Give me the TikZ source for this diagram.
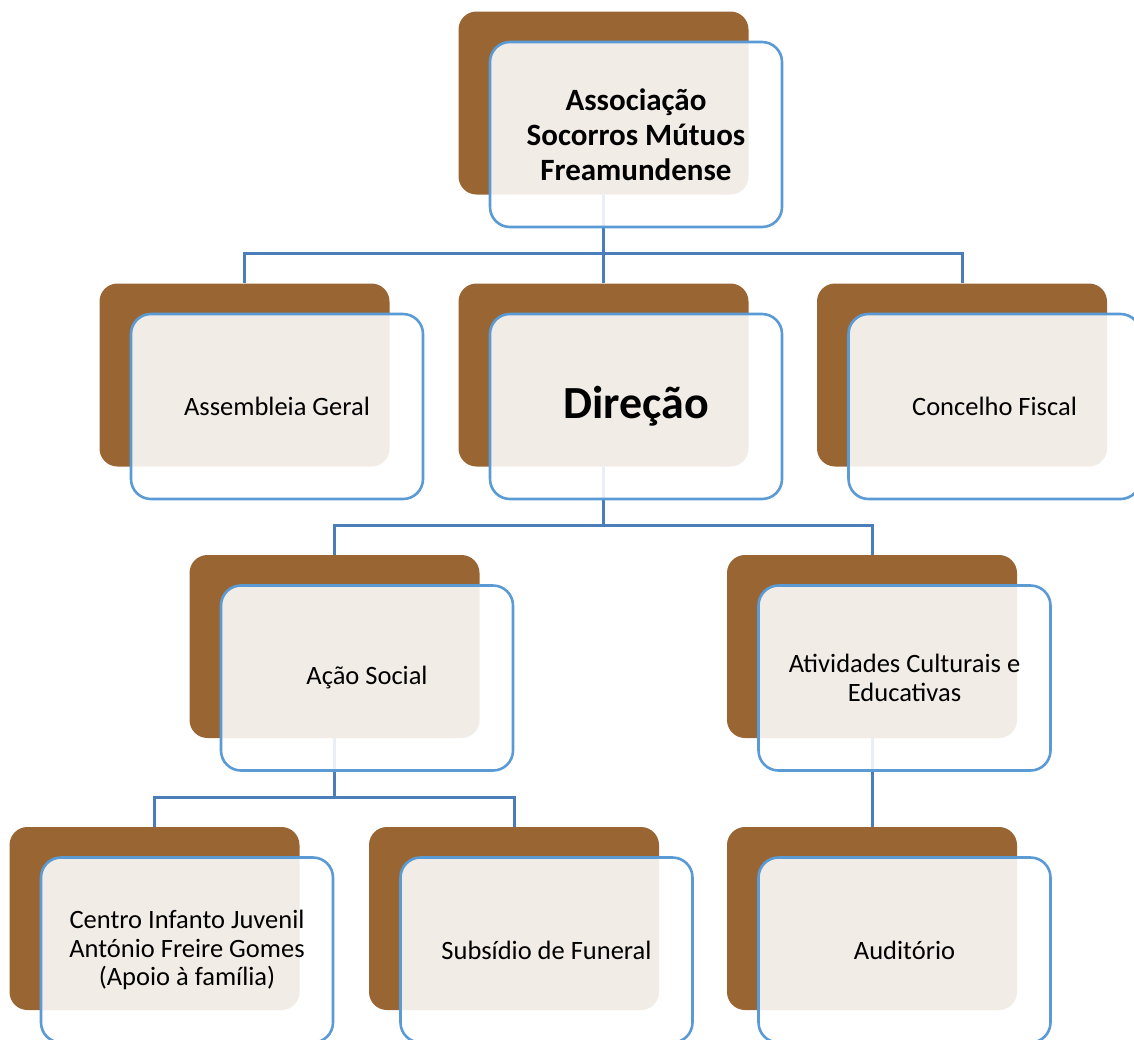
\documentclass[tikz,border=0pt]{standalone}
\usepackage{fontspec}
\setmainfont{Carlito}
\usetikzlibrary{backgrounds}
\definecolor{smbrown}{RGB}{153, 102, 51}
\definecolor{smblue}{RGB}{91, 155, 213}
\definecolor{smline}{RGB}{74, 126, 187}
\tikzset{back/.style={rectangle, rounded corners=18pt, fill=smbrown, minimum width=290pt, minimum height=183pt, inner sep=0pt}}
\tikzset{front/.style={rectangle, rounded corners=20pt, draw=smblue, line width=2.6pt, fill=white, fill opacity=0.88, text opacity=1, minimum width=292pt, minimum height=185pt, inner sep=0pt, align=center, font=\fontsize{26.5}{28.5}\selectfont}}
\tikzset{conn/.style={line width=3pt, color=smline}}

\begin{document}
\begin{tikzpicture}[x=1pt, y=-1pt]
        \useasboundingbox (0,0) rectangle (1134,1039);
        \clip (0,0) rectangle (1134,1039);

        \node[back] (Ba) at (603.5, 103) {};
        \node[front, font=\bfseries\fontsize{31}{35}\selectfont] (Na) at ([shift={(32.5,31.5)}]Ba)
        {Associação\\Socorros Mútuos\\Freamundense};

        \node[back] (Bb) at (244.5, 375) {};
        \node[front] (Nb) at ([shift={(32.5,31.5)}]Bb) {Assembleia Geral};
        \node[back] (Bc) at (603.5, 375) {};
        \node[front, font=\bfseries\fontsize{46}{50}\selectfont] (Nc) at ([shift={(32.5,31.5)}]Bc) {Direção};
        \node[back] (Bd) at (962, 375) {};
        \node[front] (Nd) at ([shift={(32.5,31.5)}]Bd) {Concelho Fiscal};

        \node[back] (Be) at (334.5, 646.5) {};
        \node[front] (Ne) at ([shift={(32.5,31.5)}]Be) {Ação Social};
        \node[back] (Bf) at (872, 646.5) {};
        \node[front] (Nf) at ([shift={(32.5,31.5)}]Bf) {Atividades Culturais e\\Educativas};

        \node[back] (Bg) at (154.5, 918.5) {};
        \node[front] (Ng) at ([shift={(32.5,31.5)}]Bg)
        {Centro Infanto Juvenil\\António Freire Gomes\\(Apoio à família)};
        \node[back] (Bh) at (514, 918.5) {};
        \node[front] (Nh) at ([shift={(32.5,31.5)}]Bh) {Subsídio de Funeral};
        \node[back] (Bi) at (872, 918.5) {};
        \node[front] (Ni) at ([shift={(32.5,31.5)}]Bi) {Auditório};

        \begin{scope}[on background layer]
        \draw [conn] (Ba.south) -- ++(0,59) -| (Bb.north);
        \draw [conn] (Ba.south) -- (Bc.north);
        \draw [conn] (Ba.south) -- ++(0,59) -| (Bd.north);
        \draw [conn] (Bc.south) -- ++(0,59) -| (Be.north);
        \draw [conn] (Bc.south) -- ++(0,59) -| (Bf.north);
        \draw [conn] (Be.south) -- ++(0,59) -| (Bg.north);
        \draw [conn] (Be.south) -- ++(0,59) -| (Bh.north);
        \draw [conn] (Bf.south) -- (Bi.north);
        \end{scope}
    \end{tikzpicture}
\end{document}
